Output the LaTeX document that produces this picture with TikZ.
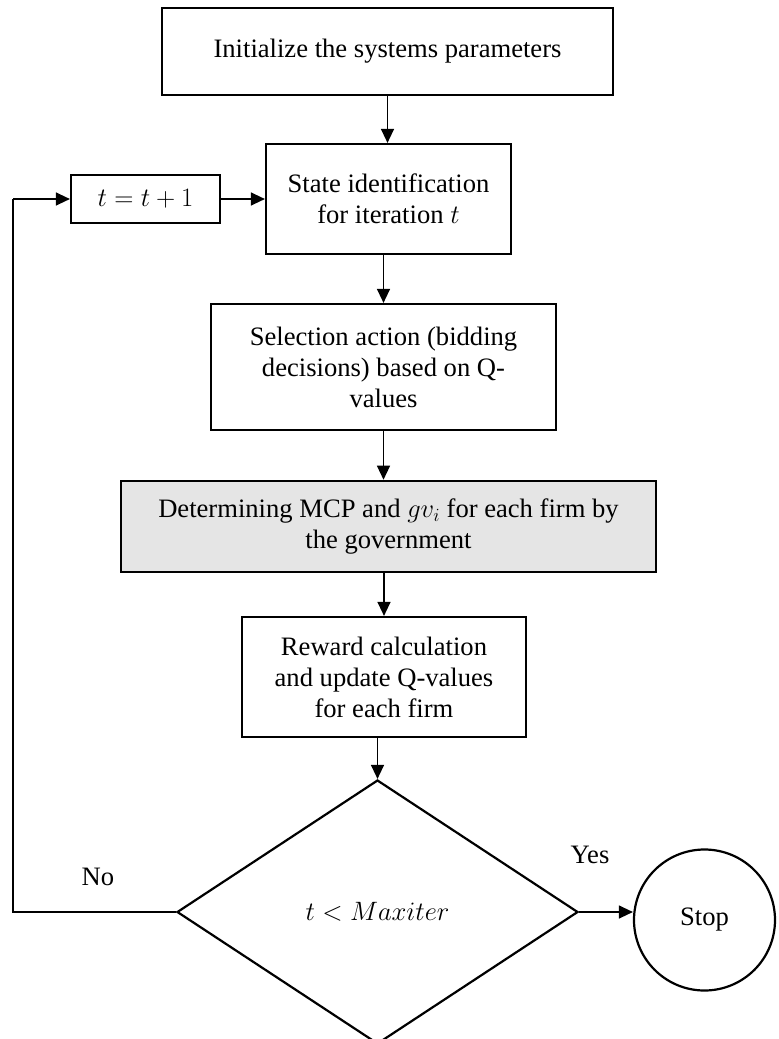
\RequirePackage{fix-cm}
\documentclass[tikz,border=0pt]{standalone}
\usepackage{fontspec}
\setmainfont{Liberation Serif}
\usetikzlibrary{shapes.geometric,arrows.meta}
\begin{document}
\begin{tikzpicture}[x=1pt,y=-1pt,
  txt/.style={font=\fontsize{26.6}{31}\selectfont},
  box/.style={txt,draw,line width=2.2pt,align=center,inner sep=0pt},
  arr/.style={line width=1.3pt,-{Triangle[length=14pt,width=13pt]}},
  loopline/.style={line width=2.4pt},
  ]
\useasboundingbox (0,0) rectangle (779,1039);
\clip (0,0) rectangle (779,1039);
\node[box,minimum width=451pt,minimum height=87pt] (b1) at (387.5,51.5) {Initialize the systems parameters};
\node[box,minimum width=245pt,minimum height=110pt] (b2) at (388.5,199) {State identification\\for iteration $t$};
\node[box,minimum width=149pt,minimum height=48pt] (tb) at (145.5,199) {$t=t+1$};
\node[box,minimum width=345pt,minimum height=126pt] (b3) at (383.5,367) {Selection action (bidding\\decisions) based on Q-\\values};
\node[box,fill=black!10,line width=2.6pt,minimum width=535pt,minimum height=91pt] (g) at (388.5,526.5) {Determining MCP and $gv_i$ for each firm by\\the government};
\node[box,minimum width=284pt,minimum height=120pt] (b5) at (384,677) {Reward calculation\\and update Q-values\\for each firm};
\node[txt,draw,diamond,line width=2.2pt,aspect=1.52,minimum width=401pt,minimum height=264pt,inner sep=0pt] (d) at (377.5,912) {$t<Maxiter$};
\node[txt,draw,circle,line width=2.2pt,minimum size=141pt,inner sep=0pt] (stop) at (704.5,920) {Stop};
\node[txt] (yes) at (590,855) {Yes};
\node[txt] (no) at (98,877) {No};
\coordinate (loopx) at (13,0);
\draw[arr] (b1.south) -- (b1.south |- b2.north);
\draw[arr] (b2.south -| b3.north) -- (b3.north);
\draw[arr] (b3.south) -- (b3.south |- g.north);
\draw[arr] (g.south -| b5.north) -- (b5.north);
\draw[arr] (b5.south -| d.north) -- (d.north);
\draw[arr] (tb.east) -- (tb.east -| b2.west);
\draw[arr] (d.east) -- (d.east -| stop.west);
\draw[loopline] (d.west) -- (d.west -| loopx) -- (tb.west -| loopx);
\draw[arr] (tb.west -| loopx) -- (tb.west);
\end{tikzpicture}
\end{document}
